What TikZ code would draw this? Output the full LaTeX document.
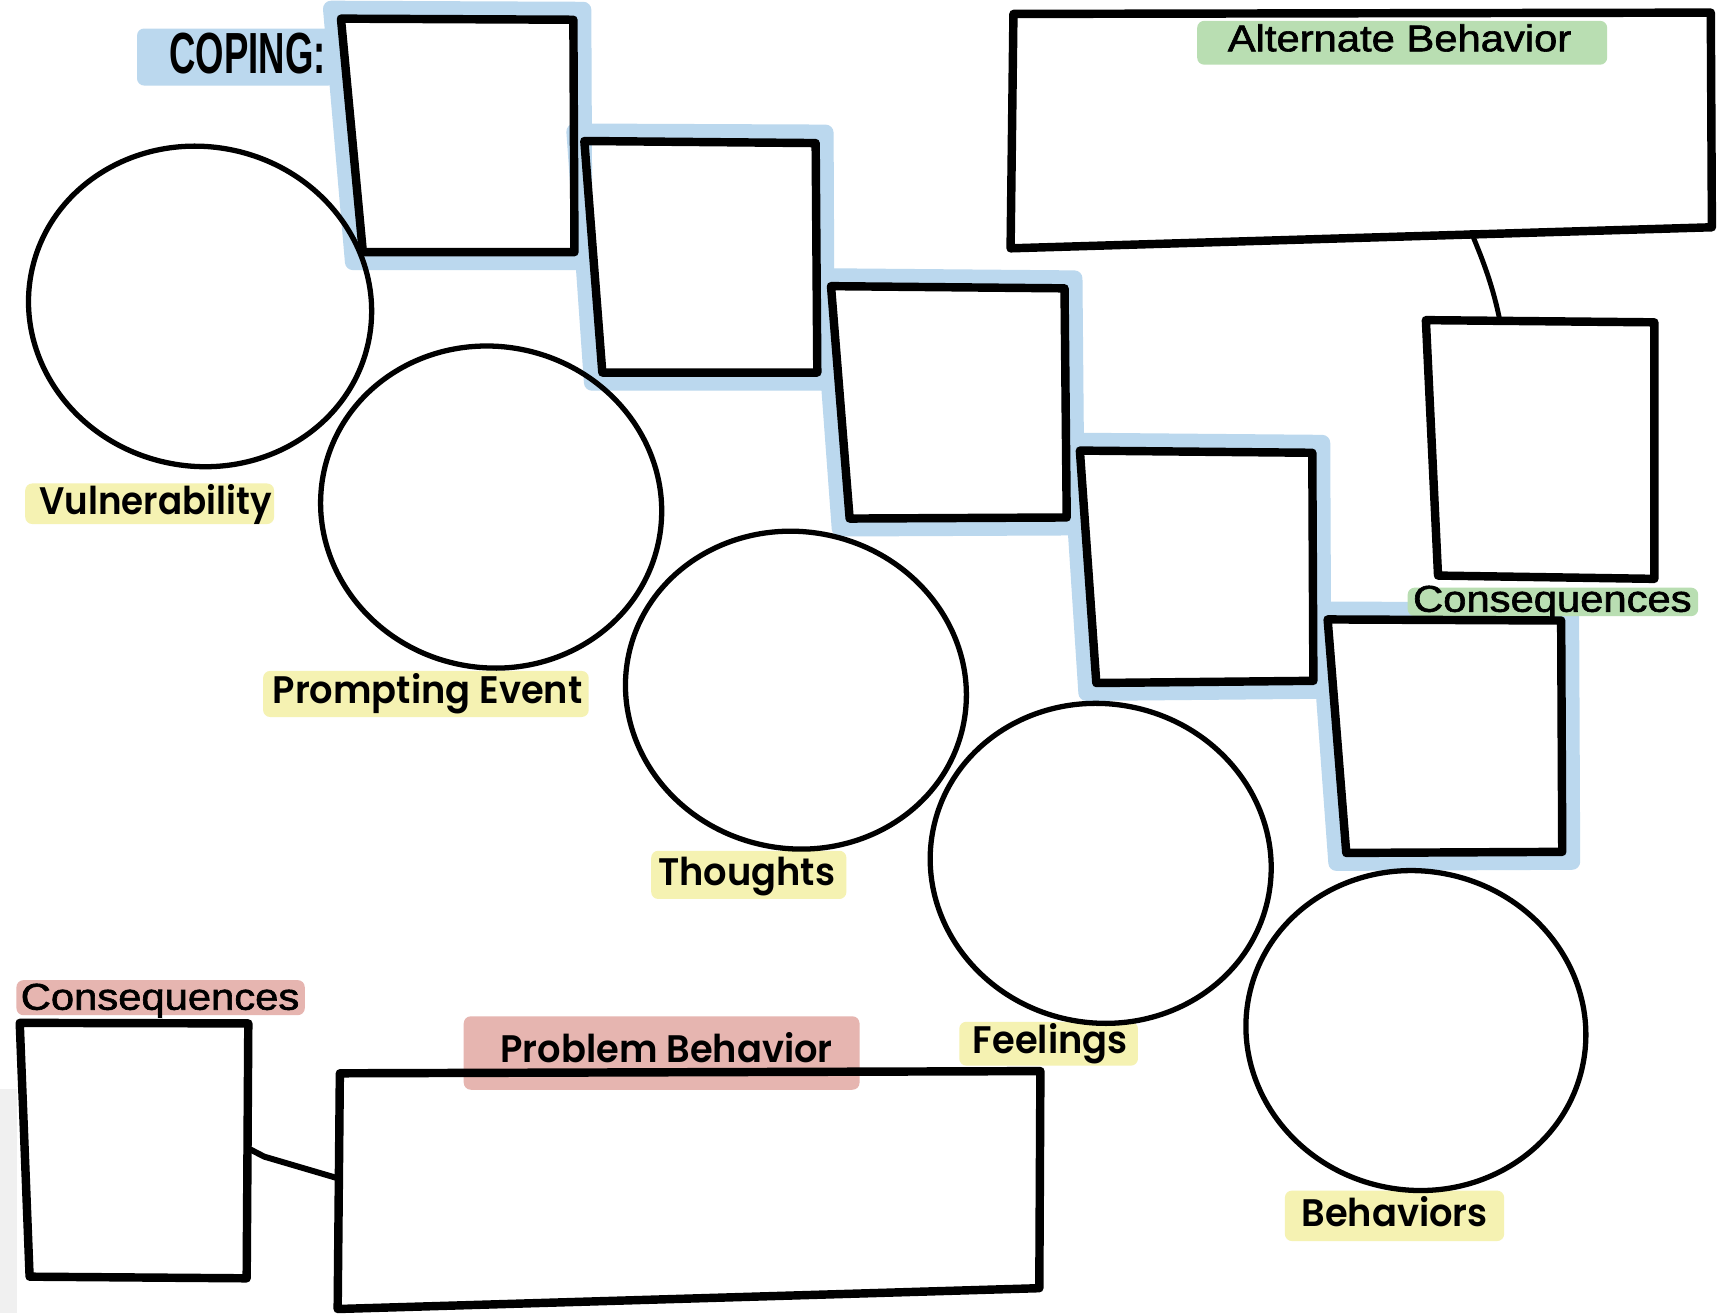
\documentclass[tikz,border=0pt]{standalone}
\usepackage{fontspec}
\setmainfont{Liberation Sans}
\newfontfamily\armed{Liberation Sans}[FakeBold=1.6]
\newfontfamily\popfont{Poppins SemiBold}
\usetikzlibrary{shapes.geometric}
\definecolor{hlblue}{HTML}{BBD8EE}
\definecolor{hlgreen}{HTML}{B9DEB2}
\definecolor{hlyellow}{HTML}{F5F2B2}
\definecolor{hlpink}{HTML}{E6B5B0}
\definecolor{sidegray}{HTML}{F0F0F0}
\begin{document}
\begin{tikzpicture}[x=0.010963cm,y=-0.010963cm,
  boxline/.style={draw=black,line width=2.4pt,line join=round,line cap=round},
  blueband/.style={draw=hlblue,line width=4.6pt,line join=round},
  ring/.style={ellipse,draw=black,line width=1.5pt,inner sep=0pt,rotate=-12},
  link/.style={draw=black,line width=1.4pt,line cap=round,line join=round},
  hl/.style={rounded corners=2pt},
  poplabel/.style={anchor=base,inner sep=0pt,font=\popfont\fontsize{10.9}{13}\selectfont},
  arlabel/.style={anchor=base,inner sep=0pt,font=\armed\fontsize{10.6}{13}\selectfont},
]
\useasboundingbox (0,0) rectangle (1568,1198);
\fill[white] (0,0) rectangle (1568,1198);
\fill[sidegray] (0,993) rectangle (15.8,1198);

% blue bands behind the coping boxes
\draw[blueband] (302,8) -- (532,9) -- (533,239) -- (322,239) -- cycle;
\draw[blueband] (524,120) -- (753,121) -- (754,349) -- (540,349) -- cycle;
\draw[blueband] (749,252) -- (980,254) -- (982,481) -- (766,482) -- cycle;
\draw[blueband] (976,402) -- (1206,404) -- (1207,630) -- (991,632) -- cycle;
\draw[blueband] (1202,556) -- (1433,557) -- (1434,786) -- (1219,787) -- cycle;

% label highlights
\fill[hlblue,hl] (125,26) rectangle (306,78);
\fill[hlgreen,hl] (1092,19) rectangle (1466,59);
\fill[hlgreen,hl] (1284,536) rectangle (1549,562);
\fill[hlyellow,hl] (23,441) rectangle (250,478);
\fill[hlyellow,hl] (240,612) rectangle (537,654);
\fill[hlyellow,hl] (594,776) rectangle (772,820);
\fill[hlyellow,hl] (875,932) rectangle (1038,972);
\fill[hlyellow,hl] (1172,1086) rectangle (1372,1132);
\fill[hlpink,hl] (423,927) rectangle (784,994);
\fill[hlpink,hl] (15,894) rectangle (278,926);

% circles
\node[ring,minimum width=3.439cm,minimum height=3.192cm] (vul) at (182.5,279.5) {};
\node[ring,minimum width=3.417cm,minimum height=3.209cm] (pro) at (448,462.5) {};
\node[ring,minimum width=3.417cm,minimum height=3.165cm] (tho) at (726,629.5) {};
\node[ring,minimum width=3.417cm,minimum height=3.187cm] (fee) at (1004,787.5) {};
\node[ring,minimum width=3.406cm,minimum height=3.187cm] (beh) at (1291.5,940) {};

% coping boxes
\draw[boxline] (311,17) -- (523,18) -- (524,230) -- (331,230) -- cycle;
\draw[boxline] (533,128.6) -- (744,130.5) -- (745.5,339.8) -- (549.4,339.8) -- cycle;
\draw[boxline] (758,261) -- (971,263) -- (973,472) -- (775,473) -- cycle;
\draw[boxline] (985,411) -- (1197,413) -- (1198,621) -- (1000,623) -- cycle;
\draw[boxline] (1211,565) -- (1424,566) -- (1425,777) -- (1228,778) -- cycle;

% alternate behavior box and its consequences
\draw[boxline] (924.4,12.7) -- (1560.5,11.5) -- (1561.5,207.3) -- (921.8,226.5) -- cycle;
\draw[boxline] (1300.6,292) -- (1509,294) -- (1509,528) -- (1311.7,525) -- cycle;
\coordinate (altB) at (1342,212);
\coordinate (conRT) at (1368,292);
\draw[link] (altB) .. controls (1353,238) and (1362,262) .. (conRT);

% problem behavior box and its consequences
\draw[boxline] (18,933) -- (226.5,933.5) -- (225,1166) -- (27,1164.5) -- cycle;
\draw[boxline] (310,979) -- (949,977) -- (948,1175) -- (308,1194) -- cycle;
\coordinate (conLR) at (226.5,1047.5);
\coordinate (probL) at (309,1075);
\draw[link,line width=1.7pt] (conLR) -- (241,1055) -- (probL);

% texts
\node[anchor=center,inner sep=0pt,font=\bfseries\fontsize{16.5}{18}\selectfont] (coping) at (226,49) {\scalebox{0.63}[1]{COPING:}};
\node[arlabel] (altlab) at (1276.6,46.8) {\scalebox{1.12}[1]{Alternate Behavior}};
\node[arlabel] (conRlab) at (1416,558) {\scalebox{1.12}[1]{Consequences}};
\node[arlabel] (conLlab) at (146,921) {\scalebox{1.12}[1]{Consequences}};
\node[poplabel] (vullab) at (142,469) {\scalebox{0.93}[1]{Vulnerability}};
\node[poplabel] (prolab) at (390,642) {\scalebox{0.96}[1]{Prompting Event}};
\node[poplabel] (tholab) at (681,808) {\scalebox{0.96}[1]{Thoughts}};
\node[poplabel] (feelab) at (958,961) {\scalebox{0.96}[1]{Feelings}};
\node[poplabel] (behlab) at (1272,1119) {\scalebox{0.96}[1]{Behaviors}};
\node[poplabel] (pblab) at (608,969) {\scalebox{0.96}[1]{Problem Behavior}};
\end{tikzpicture}
\end{document}
